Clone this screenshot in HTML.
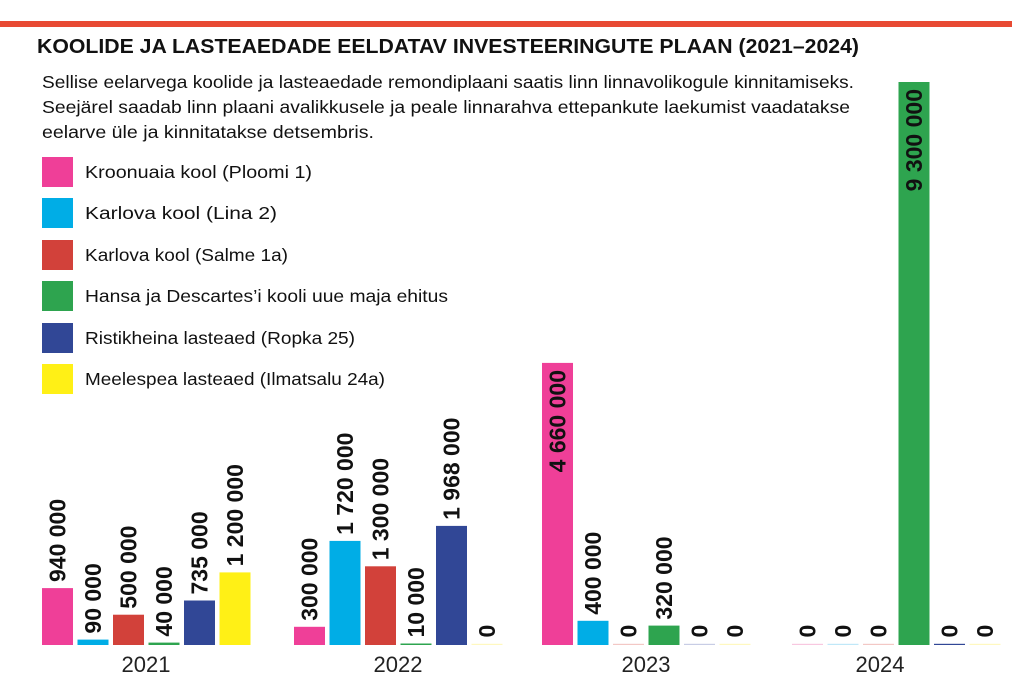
<!DOCTYPE html>
<html><head><meta charset="utf-8"><style>
body{margin:0;background:#fff;width:1012px;height:691px;overflow:hidden}
svg{display:block;font-family:"Liberation Sans",sans-serif}
.l{font-size:23px;font-weight:bold;fill:#111}
</style></head><body>
<svg width="1012" height="691" viewBox="0 0 1012 691">
<rect x="0" y="21" width="1012" height="6" fill="#e84a33"/>
<text x="37" y="53" font-size="20.5" font-weight="bold" fill="#111" textLength="822" lengthAdjust="spacingAndGlyphs">KOOLIDE JA LASTEAEDADE EELDATAV INVESTEERINGUTE PLAAN (2021–2024)</text>
<g font-size="17.5" fill="#111">
<text x="42" y="88" textLength="812" lengthAdjust="spacingAndGlyphs">Sellise eelarvega koolide ja lasteaedade remondiplaani saatis linn linnavolikogule kinnitamiseks.</text>
<text x="42" y="113" textLength="808" lengthAdjust="spacingAndGlyphs">Seejärel saadab linn plaani avalikkusele ja peale linnarahva ettepankute laekumist vaadatakse</text>
<text x="42" y="138" textLength="332" lengthAdjust="spacingAndGlyphs">eelarve üle ja kinnitatakse detsembris.</text>
</g>
<g font-size="17.5" fill="#111">
<rect x="42" y="157" width="31" height="30" fill="#ef3f98"/><text x="85" y="178" textLength="227" lengthAdjust="spacingAndGlyphs">Kroonuaia kool (Ploomi 1)</text>
<rect x="42" y="198" width="31" height="30" fill="#00ade6"/><text x="85" y="219" textLength="192" lengthAdjust="spacingAndGlyphs">Karlova kool (Lina 2)</text>
<rect x="42" y="240" width="31" height="30" fill="#d2413a"/><text x="85" y="261" textLength="203" lengthAdjust="spacingAndGlyphs">Karlova kool (Salme 1a)</text>
<rect x="42" y="281" width="31" height="30" fill="#2ea44f"/><text x="85" y="302" textLength="363" lengthAdjust="spacingAndGlyphs">Hansa ja Descartes’i kooli uue maja ehitus</text>
<rect x="42" y="323" width="31" height="30" fill="#314796"/><text x="85" y="344" textLength="270" lengthAdjust="spacingAndGlyphs">Ristikheina lasteaed (Ropka 25)</text>
<rect x="42" y="364" width="31" height="30" fill="#fff016"/><text x="85" y="385" textLength="300" lengthAdjust="spacingAndGlyphs">Meelespea lasteaed (Ilmatsalu 24a)</text>
</g>
<!-- 2021 -->
<rect x="42" y="588.1" width="31" height="56.9" fill="#ef3f98"/>
<rect x="77.5" y="639.6" width="31" height="5.4" fill="#00ade6"/>
<rect x="113" y="614.7" width="31" height="30.3" fill="#d2413a"/>
<rect x="148.5" y="642.6" width="31" height="2.4" fill="#2ea44f"/>
<rect x="184" y="600.5" width="31" height="44.5" fill="#314796"/>
<rect x="219.5" y="572.4" width="31" height="72.6" fill="#fff016"/>
<text class="l" transform="translate(65.5,582) rotate(-90)">940 000</text>
<text class="l" transform="translate(101,633.6) rotate(-90)">90 000</text>
<text class="l" transform="translate(136.5,608.7) rotate(-90)">500 000</text>
<text class="l" transform="translate(172,636.6) rotate(-90)">40 000</text>
<text class="l" transform="translate(207.5,594.5) rotate(-90)">735 000</text>
<text class="l" transform="translate(243,566.4) rotate(-90)">1 200 000</text>
<!-- 2022 -->
<rect x="294" y="626.8" width="31" height="18.2" fill="#ef3f98"/>
<rect x="329.5" y="540.9" width="31" height="104.1" fill="#00ade6"/>
<rect x="365" y="566.3" width="31" height="78.7" fill="#d2413a"/>
<rect x="400.5" y="643.5" width="31" height="1.5" fill="#2ea44f"/>
<rect x="436" y="525.9" width="31" height="119.1" fill="#314796"/>
<rect x="471.5" y="643.8" width="31" height="1.2" fill="#fff8c0"/>
<text class="l" transform="translate(317.5,620.8) rotate(-90)">300 000</text>
<text class="l" transform="translate(353,534.9) rotate(-90)">1 720 000</text>
<text class="l" transform="translate(388.5,560.3) rotate(-90)">1 300 000</text>
<text class="l" transform="translate(424,637.5) rotate(-90)">10 000</text>
<text class="l" transform="translate(459.5,519.9) rotate(-90)">1 968 000</text>
<text class="l" transform="translate(495,637.5) rotate(-90)">0</text>
<!-- 2023 -->
<rect x="542" y="362.9" width="31" height="282.1" fill="#ef3f98"/>
<rect x="577.5" y="620.8" width="31" height="24.2" fill="#00ade6"/>
<rect x="613" y="643.8" width="31" height="1.2" fill="#f3c8c5"/>
<rect x="648.5" y="625.6" width="31" height="19.4" fill="#2ea44f"/>
<rect x="684" y="643.8" width="31" height="1.2" fill="#c8cde5"/>
<rect x="719.5" y="643.8" width="31" height="1.2" fill="#fff8c0"/>
<text class="l" text-anchor="end" transform="translate(565.5,370) rotate(-90)">4 660 000</text>
<text class="l" transform="translate(601,614.8) rotate(-90)">400 000</text>
<text class="l" transform="translate(636.5,637.5) rotate(-90)">0</text>
<text class="l" transform="translate(672,619.6) rotate(-90)">320 000</text>
<text class="l" transform="translate(707.5,637.5) rotate(-90)">0</text>
<text class="l" transform="translate(743,637.5) rotate(-90)">0</text>
<!-- 2024 -->
<rect x="792" y="643.8" width="31" height="1.2" fill="#f8c8e0"/>
<rect x="827.5" y="643.8" width="31" height="1.2" fill="#c0e8f8"/>
<rect x="863" y="643.8" width="31" height="1.2" fill="#f3c8c5"/>
<rect x="898.5" y="82" width="31" height="563" fill="#2ea44f"/>
<rect x="934" y="643.8" width="31" height="1.2" fill="#314796"/>
<rect x="969.5" y="643.8" width="31" height="1.2" fill="#fff8c0"/>
<text class="l" transform="translate(815.5,637.5) rotate(-90)">0</text>
<text class="l" transform="translate(851,637.5) rotate(-90)">0</text>
<text class="l" transform="translate(886.5,637.5) rotate(-90)">0</text>
<text class="l" text-anchor="end" transform="translate(922,89) rotate(-90)">9 300 000</text>
<text class="l" transform="translate(957.5,637.5) rotate(-90)">0</text>
<text class="l" transform="translate(993,637.5) rotate(-90)">0</text>
<g font-size="22" fill="#222" text-anchor="middle">
<text x="146" y="672">2021</text><text x="398" y="672">2022</text><text x="646" y="672">2023</text><text x="880" y="672">2024</text>
</g>
</svg>
</body></html>
